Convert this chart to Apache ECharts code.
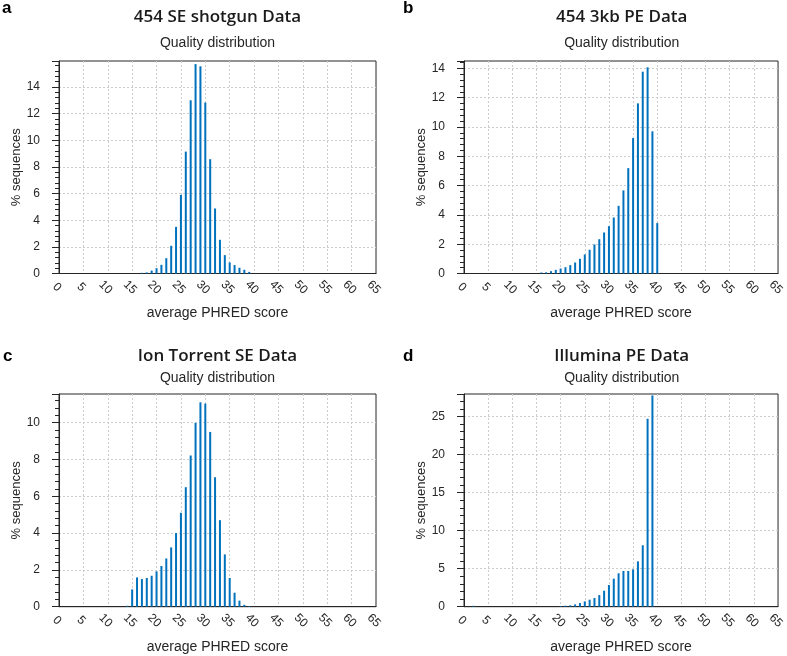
<!DOCTYPE html>
<html><head><meta charset="utf-8">
<script src="https://cdn.jsdelivr.net/npm/echarts@6/dist/echarts.min.js"></script>
<style>html,body{margin:0;padding:0;background:#fff}#c{width:787px;height:656px}</style>
</head><body><div id="c"></div>
<script>
const panelLetters = ['a', 'b', 'c', 'd'];
const panelTitles = ['454 SE shotgun Data', '454 3kb PE Data', 'Ion Torrent SE Data', 'Illumina PE Data'];
const subtitle = 'Quality distribution';
const xAxisTitle = 'average PHRED score';
const yAxisTitle = '% sequences';
const xMin = 0, xMax = 65, xStep = 5;

const scoresA = [17,18,19,20,21,22,23,24,25,26,27,28,29,30,31,32,33,34,35,36,37,38,39];
const pctA    = [0.05,0.08,0.22,0.40,0.65,1.15,2.08,3.50,5.90,9.15,13.00,15.72,15.55,12.83,8.58,4.88,2.53,1.38,0.83,0.63,0.43,0.28,0.12];

const scoresB = [16,17,18,19,20,21,22,23,24,25,26,27,28,29,30,31,32,33,34,35,36,37,38,39,40];
const pctB    = [0.07,0.08,0.16,0.25,0.34,0.43,0.57,0.75,1.00,1.30,1.62,1.98,2.34,2.80,3.23,3.82,4.62,5.67,7.19,9.24,11.61,13.77,14.07,9.70,3.44];

const scoresC = [14,15,16,17,18,19,20,21,22,23,24,25,26,27,28,29,30,31,32,33,34,35,36,37,38,39];
const pctC    = [0.05,0.94,1.59,1.50,1.56,1.68,1.92,2.21,2.62,3.22,4.00,5.10,6.49,8.21,9.98,11.10,11.03,9.49,7.03,4.70,2.84,1.56,0.76,0.33,0.10,0.04];

const scoresD = [2,20,21,22,23,24,25,26,27,28,29,30,31,32,33,34,35,36,37,38,39];
const pctD    = [0.12,0.09,0.13,0.18,0.30,0.48,0.70,0.92,1.14,1.53,2.10,2.85,3.68,4.39,4.69,4.69,4.91,5.96,8.07,24.70,27.76];

const yMaxes = [15.95, 14.5, 11.55, 27.95];
const yIntervals = [2, 2, 2, 5];

const allScores = [scoresA, scoresB, scoresC, scoresD];
const allPct = [pctA, pctB, pctC, pctD];

const grids = [
  {left: 59, top: 61, width: 317, height: 212.5},
  {left: 464, top: 61, width: 315.5, height: 212.5},
  {left: 59, top: 394, width: 317, height: 212.7},
  {left: 464, top: 394, width: 315.5, height: 212.7}
];
const titleY = [17.5, 17.5, 356, 356];
const subY = [43.5, 43.5, 378.5, 378.5];
const letterPos = [[2, 8], [403, 8], [3, 356], [403, 356]];

const axisColor = '#262626';
const tickFont = 'Liberation Sans, Arial, sans-serif';
const gridLine = {show: true, showMinLine: false, showMaxLine: false,
  lineStyle: {color: '#cccccc', type: [2, 2], width: 1}};

const option = {
  animation: false,
  backgroundColor: '#ffffff',
  grid: grids.map(g => Object.assign({show: true, borderColor: axisColor, borderWidth: 1, backgroundColor: 'transparent'}, g)),
  xAxis: grids.map((g, i) => ({
    type: 'value', gridIndex: i, min: xMin, max: xMax, interval: xStep,
    name: xAxisTitle, nameLocation: 'middle', nameGap: 33,
    nameTextStyle: {fontFamily: tickFont, fontSize: 14, color: axisColor},
    axisLine: {show: true, onZero: false, lineStyle: {color: axisColor, width: 1}},
    axisTick: {show: false},
    axisLabel: {rotate: -45, align: 'center', verticalAlign: 'middle', margin: 16,
      padding: [0, 6, 0, 0], fontFamily: tickFont, fontSize: 12, color: axisColor},
    splitLine: gridLine
  })),
  yAxis: grids.map((g, i) => ({
    type: 'value', gridIndex: i, min: 0, max: yMaxes[i], interval: yIntervals[i],
    name: yAxisTitle, nameLocation: 'middle', nameGap: 36, nameRotate: 90,
    nameTextStyle: {fontFamily: tickFont, fontSize: 13, color: axisColor},
    axisLine: {show: true, lineStyle: {color: axisColor, width: 1}},
    axisTick: {show: true, inside: false, length: 7, lineStyle: {color: axisColor}},
    minorTick: {show: true, splitNumber: 5, length: 4, lineStyle: {color: axisColor}},
    axisLabel: {showMaxLabel: false, margin: 19, fontFamily: tickFont, fontSize: 12, color: axisColor},
    splitLine: gridLine
  })),
  series: allScores.map((sc, i) => ({
    type: 'bar', xAxisIndex: i, yAxisIndex: i, barWidth: 2,
    itemStyle: {color: '#0072BD'},
    data: sc.map((s, j) => [s, allPct[i][j]])
  })),
  graphic: [].concat(
    grids.map((g, i) => ({type: 'text', x: g.left + g.width / 2, y: titleY[i],
      style: {text: panelTitles[i], font: '600 17px "Open Sans", "Noto Sans", sans-serif', fill: '#1a1a1a',
        textAlign: 'center', textVerticalAlign: 'middle', align: 'center', verticalAlign: 'middle'}})),
    grids.map((g, i) => ({type: 'text', x: g.left + g.width / 2, y: subY[i],
      style: {text: subtitle, font: '14px "Liberation Sans", Arial, sans-serif', fill: axisColor,
        textAlign: 'center', textVerticalAlign: 'middle', align: 'center', verticalAlign: 'middle'}})),
    letterPos.map((p, i) => ({type: 'text', x: p[0], y: p[1],
      style: {text: panelLetters[i], font: 'bold 17px "Liberation Sans", Arial, sans-serif', fill: '#000',
        textAlign: 'left', textVerticalAlign: 'middle', align: 'left', verticalAlign: 'middle'}}))
  )
};

const chart = echarts.init(document.getElementById('c'), null, {renderer: 'canvas'});
chart.setOption(option);
</script>
</body></html>
